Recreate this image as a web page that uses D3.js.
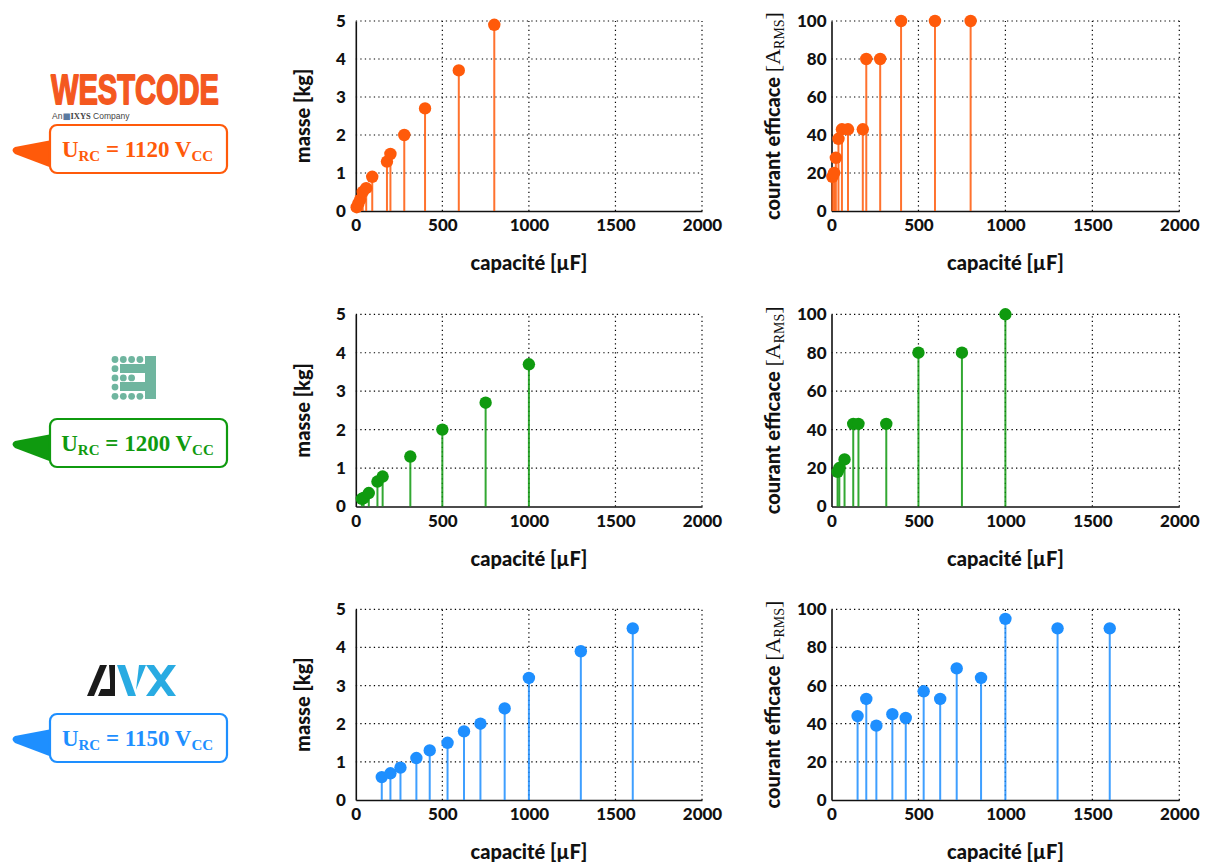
<!DOCTYPE html>
<html>
<head>
<meta charset="utf-8">
<script src="https://cdn.jsdelivr.net/npm/d3@7"></script>
<style>
  html, body { margin: 0; padding: 0; background: #fff; }
  svg { display: block; }
  .tick text { font-family: Lato, "Open Sans", sans-serif; font-weight: 900; font-size: 17px; fill: #111; }
</style>
</head>
<body>
<svg id="chart" width="1212" height="864"></svg>
<script>
// ---------- data ----------
const xTicks = [0, 500, 1000, 1500, 2000];
const massTicks = [0, 1, 2, 3, 4, 5];
const curTicks = [0, 20, 40, 60, 80, 100];

const westCap  = [5, 15, 25, 40, 60, 95, 180, 200, 280, 400, 595, 800];
const westMass = [0.1, 0.2, 0.3, 0.5, 0.6, 0.9, 1.3, 1.5, 2.0, 2.7, 3.7, 4.9];
const westCur  = [18, 20, 28, 38, 43, 43, 43, 80, 80, 100, 100, 100];

const greenCap  = [35, 45, 75, 125, 155, 315, 500, 750, 1000];
const greenMass = [0.2, 0.22, 0.35, 0.65, 0.78, 1.3, 2.0, 2.7, 3.7];
const greenCur  = [18, 20, 24.5, 43, 43, 43, 80, 80, 100];

const avxCap  = [150, 200, 258, 350, 427, 530, 625, 720, 860, 1000, 1300, 1600];
const avxMass = [0.6, 0.7, 0.85, 1.1, 1.3, 1.5, 1.8, 2.0, 2.4, 3.2, 3.9, 4.5];
const avxCur  = [44, 53, 39, 45, 43, 57, 53, 69, 64, 95, 90, 90];

const voltages = ["1120", "1200", "1150"];
const colors = ["#ff5a0a", "#0f9a0f", "#1e8fff"];

// ---------- layout ----------
const rows = [
  { y0: 211, y1: 21, box: 125, cap: westCap, mass: westMass, cur: westCur },
  { y0: 506.5, y1: 314.3, box: 419, cap: greenCap, mass: greenMass, cur: greenCur },
  { y0: 800, y1: 609.3, box: 714, cap: avxCap, mass: avxMass, cur: avxCur }
];
const cols = [
  { x0: 355.8, x1: 702, key: "mass", yMax: 5, ticks: massTicks, pad: 10, titleX: 310 },
  { x0: 831.5, x1: 1179.3, key: "cur", yMax: 100, ticks: curTicks, pad: 5, titleX: 780 }
];

const svg = d3.select("#chart");
const SANS = "Lato, 'Open Sans', sans-serif";
const SERIF = "'Liberation Serif', 'DejaVu Serif', serif";
const fmt = d3.format("d");

rows.forEach((row, ri) => {
  const color = colors[ri];
  cols.forEach((col) => {
    const x = d3.scaleLinear().domain([0, 2000]).range([col.x0, col.x1]);
    const y = d3.scaleLinear().domain([0, col.yMax]).range([row.y0, row.y1]);
    const g = svg.append("g");

    // grid (dotted)
    const grid = g.append("g").attr("stroke", "#000").attr("stroke-width", 1.2)
      .attr("stroke-dasharray", "1.3,3.2");
    xTicks.filter(d => d > 0).forEach(t => {
      grid.append("line").attr("x1", x(t)).attr("x2", x(t))
        .attr("y1", y(0)).attr("y2", y(col.yMax));
    });
    col.ticks.filter(d => d > 0).forEach(t => {
      grid.append("line").attr("x1", x(0)).attr("x2", x(2000))
        .attr("y1", y(t)).attr("y2", y(t));
    });

    // axes
    const xa = g.append("g").attr("transform", `translate(0,${row.y0})`)
      .call(d3.axisBottom(x).tickValues(xTicks).tickFormat(fmt).tickSize(0).tickPadding(8));
    xa.select(".domain").attr("stroke", "#111").attr("stroke-width", 1.6);
    const ya = g.append("g").attr("transform", `translate(${col.x0},0)`)
      .call(d3.axisLeft(y).tickValues(col.ticks).tickFormat(fmt).tickSize(0).tickPadding(col.pad));
    ya.select(".domain").attr("stroke", "#111").attr("stroke-width", 1.6);

    // x title
    g.append("text").attr("x", (col.x0 + col.x1) / 2).attr("y", row.y0 + 59)
      .attr("text-anchor", "middle").attr("font-family", SANS).attr("font-weight", 900)
      .attr("font-size", 20).attr("fill", "#111").text("capacité [µF]");

    // y title
    const yt = g.append("text")
      .attr("transform", `translate(${col.titleX},${(row.y0 + row.y1) / 2}) rotate(-90)`)
      .attr("text-anchor", "middle").attr("fill", "#111");
    if (col.key === "mass") {
      yt.attr("font-family", SANS).attr("font-weight", 900).attr("font-size", 20).text("masse [kg]");
    } else {
      yt.append("tspan").attr("font-family", SANS).attr("font-weight", 900).attr("font-size", 20)
        .text("courant efficace ");
      yt.append("tspan").attr("font-family", SERIF).attr("font-size", 22).text("[A");
      yt.append("tspan").attr("font-family", SERIF).attr("font-size", 14).attr("dy", 4).text("RMS");
      yt.append("tspan").attr("font-family", SERIF).attr("font-size", 22).attr("dy", -4).text("]");
    }

    // stems + markers
    const data = row.cap.map((c, i) => ({ c, v: row[col.key][i] }));
    g.append("g").selectAll("line").data(data).join("line")
      .attr("x1", d => x(d.c)).attr("x2", d => x(d.c))
      .attr("y1", y(0)).attr("y2", d => y(d.v))
      .attr("stroke", color).attr("stroke-width", 2).attr("opacity", 0.85);
    g.append("g").selectAll("circle").data(data).join("circle")
      .attr("cx", d => x(d.c)).attr("cy", d => y(d.v)).attr("r", 6.2)
      .attr("fill", color);
  });

  // callout box
  const bx = 50, by = row.box, bw = 177, bh = 48;
  const cg = svg.append("g");
  cg.append("path")
    .attr("d", `M${bx + 2},${by + 15} L15,${by + 22} Q10,${by + 25} 15,${by + 29} L${bx + 2},${by + 43} Z`)
    .attr("fill", color);
  cg.append("rect").attr("x", bx).attr("y", by).attr("width", bw).attr("height", bh)
    .attr("rx", 7).attr("fill", "#fff").attr("stroke", color).attr("stroke-width", 2.2);
  const ct = cg.append("text").attr("x", bx + bw / 2 - 1).attr("y", by + 32)
    .attr("text-anchor", "middle").attr("font-family", SERIF).attr("font-weight", 700)
    .attr("fill", color);
  ct.append("tspan").attr("font-size", 23).text("U");
  ct.append("tspan").attr("font-size", 15).attr("dy", 4).text("RC");
  ct.append("tspan").attr("font-size", 23).attr("dy", -4).text(" = " + voltages[ri] + " V");
  ct.append("tspan").attr("font-size", 15).attr("dy", 4).text("CC");
});

// ---------- logos ----------
// WESTCODE (drawn at smaller size and scaled vertically so its box stays above the subtitle)
svg.append("text").attr("transform", "translate(51,104) scale(1,1.25)")
  .attr("font-family", "'Liberation Sans', Arial, sans-serif")
  .attr("font-weight", 700).attr("font-size", 34.5).attr("textLength", 168)
  .attr("lengthAdjust", "spacingAndGlyphs").attr("fill", "#f4581f")
  .attr("stroke", "#f4581f").attr("stroke-width", 1.4).attr("stroke-linejoin", "round")
  .text("WESTCODE");
const sub = svg.append("text").attr("x", 52).attr("y", 118.5).attr("font-size", 8.5).attr("fill", "#444");
sub.append("tspan").attr("font-family", "'Liberation Sans', sans-serif").text("An");
sub.append("tspan").attr("font-family", "'DejaVu Sans', sans-serif").attr("fill", "#5a7aa0").text("■");
sub.append("tspan").attr("font-family", SERIF).attr("font-weight", 700).text("IXYS");
sub.append("tspan").attr("font-family", "'Liberation Sans', sans-serif").text(" Company");

// green E logo
const teal = "#6fb59f";
const eg = svg.append("g").attr("fill", teal);
eg.append("rect").attr("x", 145).attr("y", 356).attr("width", 11).attr("height", 43);
eg.append("rect").attr("x", 120).attr("y", 364).attr("width", 36).attr("height", 9);
eg.append("rect").attr("x", 120).attr("y", 382).attr("width", 36).attr("height", 9);
const dotRows = [[0, 1, 2, 3], [0], [0, 1, 2], [0], [0, 1, 2, 3]];
dotRows.forEach((r, i) => r.forEach(j => {
  eg.append("circle").attr("cx", 115 + j * 8.3).attr("cy", 359.5 + i * 9.2).attr("r", 3.4);
}));

// AVX logo
const ag = svg.append("g");
ag.append("path").attr("d", "M87,696 L100,665 L107,665 L94,696 Z").attr("fill", "#1a1a1a");
ag.append("path").attr("d", "M109,665 L115,665 L115,696 L98,696 L101,689 L110,689 L110,680 Z").attr("fill", "#1a1a1a");
ag.append("path").attr("d", "M117,665 L125,665 L136,696 L128,696 Z").attr("fill", "#29abe2");
ag.append("path").attr("d", "M139,665 L146,665 L136,690 Z").attr("fill", "#29abe2");
ag.append("path").attr("d", "M146,665 L154,665 L176,696 L168,696 Z").attr("fill", "#29abe2");
ag.append("path").attr("d", "M168,665 L176,665 L154,696 L146,696 Z").attr("fill", "#29abe2");
</script>
</body>
</html>
